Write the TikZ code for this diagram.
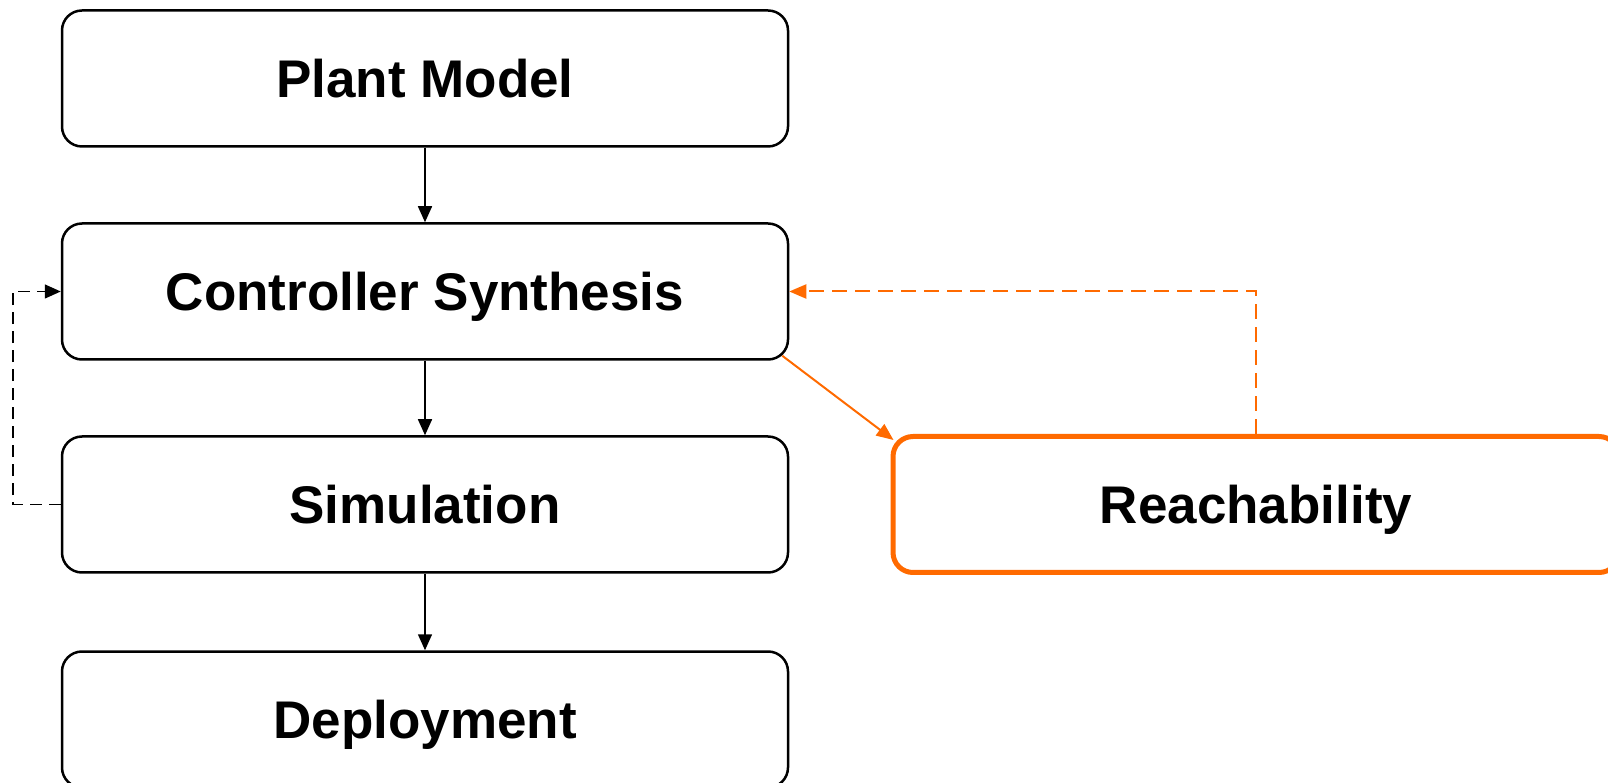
\documentclass[tikz,border=0pt]{standalone}
\usepackage{fontspec}
\setmainfont{Liberation Sans}
\usetikzlibrary{arrows.meta,calc}
\definecolor{orng}{HTML}{FF6A00}
\tikzset{
  box/.style={draw=black, line width=2.5pt, rounded corners=20pt, minimum width=726pt, minimum height=136pt,
    inner sep=0pt, fill=white, font=\fontsize{53}{60}\selectfont\bfseries, text height=38pt, text depth=0pt},
  obox/.style={box, draw=orng, line width=5pt},
  arr/.style={line width=1.5pt, -{Triangle[length=16pt,width=14pt]}},
  darr/.style={arr, dash pattern=on 12pt off 7pt},
  oarr/.style={line width=2pt, draw=orng, -{Triangle[length=17pt,width=14pt]}, orng},
  odarr/.style={oarr, dash pattern=on 15pt off 8pt}
}
\begin{document}
\begin{tikzpicture}[x=1pt,y=1pt]
\useasboundingbox (0,0) rectangle (1608,782);
\node[box] (plant) at (425,703.5) {Plant Model};
\node[box] (ctrl) at (425,490.5) {Controller Synthesis};
\node[box] (sim) at (425,277.5) {Simulation};
\node[box] (dep) at (425,62.5) {Deployment};
\node[obox] (reach) at (1256,277.5) {Reachability};
\draw[arr] (plant.south) -- (ctrl.north);
\draw[arr] (ctrl.south) -- (sim.north);
\draw[arr] (sim.south) -- (dep.north);
\coordinate (lx) at (13,0);
\draw[darr] (sim.west) -- (sim.west -| lx) -- (ctrl.west -| lx) -- (ctrl.west);
\draw[odarr] (reach.north) -- (reach.north |- ctrl.east) -- (ctrl.east);
\draw[oarr] ($(ctrl.south east)+(-7,5)$) -- ($(reach.north west)+(3,-6)$);
\end{tikzpicture}
\end{document}
